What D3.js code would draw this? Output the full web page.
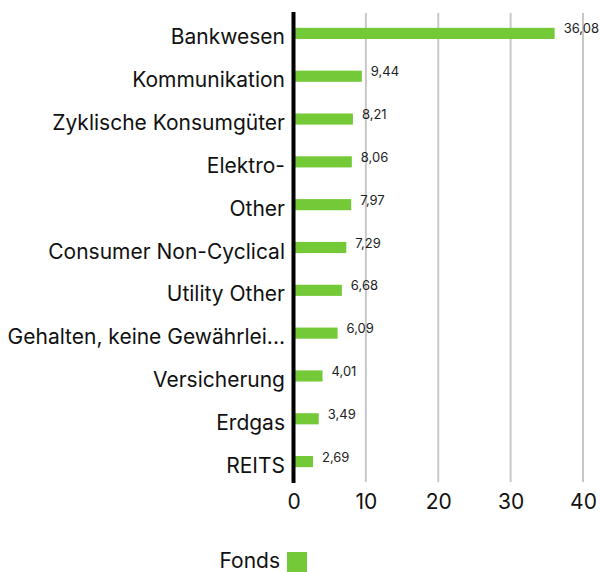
<!DOCTYPE html>
<html><head><meta charset="utf-8">
<script src="https://cdn.jsdelivr.net/npm/d3@7"></script>
<style>body{margin:0;background:#fff}svg{display:block}</style>
</head><body>
<svg id="c" width="601" height="572"></svg>
<script>
const categories = ["Bankwesen","Kommunikation","Zyklische Konsumgüter","Elektro-","Other","Consumer Non-Cyclical","Utility Other","Gehalten, keine Gewährlei...","Versicherung","Erdgas","REITS"];
const values = [36.08,9.44,8.21,8.06,7.97,7.29,6.68,6.09,4.01,3.49,2.69];
const ticks = [0,10,20,30,40];
const seriesName = "Fonds";
const color = "#74c937";
const font = "Inter, 'Noto Sans', sans-serif";

const svg = d3.select("#c");
const x = d3.scaleLinear().domain([0,40]).range([293.5,583]);
const y = d3.scaleBand().domain(categories).range([12,483]).paddingInner(0.74).paddingOuter(0.37);

svg.append("g").selectAll("line").data(ticks.filter(t=>t>0)).join("line")
  .attr("x1",d=>x(d)).attr("x2",d=>x(d)).attr("y1",13).attr("y2",482)
  .attr("stroke","#c8c8c8").attr("stroke-width",2);

svg.append("g").selectAll("rect").data(values).join("rect")
  .attr("x",x(0)).attr("y",(d,i)=>y(categories[i]))
  .attr("width",d=>x(d)-x(0)).attr("height",y.bandwidth())
  .attr("fill",color);

svg.append("g").selectAll("text").data(values).join("text")
  .attr("x",d=>x(d)+9).attr("y",(d,i)=>y(categories[i])+y.bandwidth()/2)
  .attr("font-family",font).attr("font-size",13).attr("fill","#222")
  .text(d=>d.toFixed(2).replace(".",","));

svg.append("line").attr("x1",x(0)).attr("x2",x(0)).attr("y1",12).attr("y2",483)
  .attr("stroke","#000").attr("stroke-width",4);

svg.append("g").selectAll("text").data(categories).join("text")
  .attr("x",285).attr("y",d=>y(d)+y.bandwidth()/2+11)
  .attr("text-anchor","end").attr("font-family",font).attr("font-size",21).attr("fill","#111")
  .text(d=>d);

const xAxis = d3.axisBottom(x).tickValues(ticks).tickSize(0).tickPadding(0);
const gx = svg.append("g").attr("transform","translate(0,490)").call(xAxis);
gx.select(".domain").remove();
gx.selectAll("text").attr("font-family",font).attr("font-size",21).attr("fill","#111").attr("dy","0.9em");

svg.append("text").attr("x",280).attr("y",568).attr("text-anchor","end")
  .attr("font-family",font).attr("font-size",21).attr("fill","#111").text(seriesName);
svg.append("rect").attr("x",287).attr("y",552).attr("width",20).attr("height",20).attr("fill",color);
</script>
</body></html>
